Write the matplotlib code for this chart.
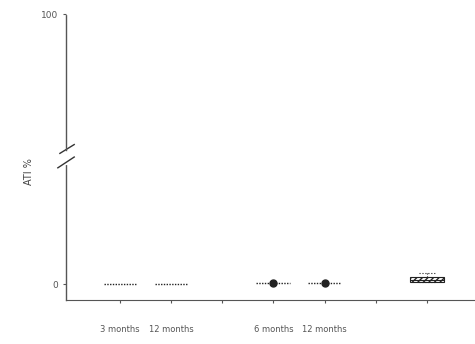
import matplotlib
matplotlib.use("Agg")
import matplotlib.pyplot as plt
import numpy as np

# ---- data ----
categories = ['3 months', '12 months', '', '6 months', '12 months', '', '']
positions = [0, 1, 2, 3, 4, 5, 6]
line_pos = [0, 1]
line_vals = [0.0, 0.0]
point_pos = [3, 4]
point_vals = [0.3, 0.3]
point_err = [0.3, 0.3]
box_pos = 6
box_q1, box_med, box_q3, box_lo, box_hi = 0.8, 1.5, 2.6, 0.8, 4.2
y_label = 'ATI %'

col = '#222222'
fig = plt.figure(figsize=(4.75, 3.44), dpi=100)
ax_top = fig.add_axes([0.139, 0.564, 0.861, 0.395])
ax_bot = fig.add_axes([0.139, 0.128, 0.861, 0.392])

for ax in (ax_top, ax_bot):
    ax.set_xlim(-1.05, 6.94)
    for s in ('top', 'right'):
        ax.spines[s].set_visible(False)
    ax.spines['left'].set_color('#555555')
    ax.spines['left'].set_linestyle((0, (1, 1)))
    ax.spines['left'].set_linewidth(1.0)
    ax.tick_params(axis='y', length=2, width=0.8, labelsize=6.5, colors='#555555')

ax_top.set_ylim(45, 100)
ax_top.set_yticks([100])
ax_top.spines['bottom'].set_visible(False)
ax_top.set_xticks([])

ax_bot.set_ylim(-6, 45)
ax_bot.set_yticks([0])
ax_bot.spines['bottom'].set_color('#555555')
ax_bot.spines['bottom'].set_linestyle((0, (1, 1)))
ax_bot.set_xticks(positions)
ax_bot.set_xticklabels(categories)
ax_bot.tick_params(axis='x', length=2, width=0.8, pad=16, labelsize=6, colors='#555555')

# median-like lines
for p, v in zip(line_pos, line_vals):
    ax_bot.hlines(v, p - 0.31, p + 0.31, color=col, lw=1.0, linestyles=(0, (1, 1)))

# points with horizontal spread
for p, v in zip(point_pos, point_vals):
    ax_bot.hlines(v, p - 0.33, p + 0.33, color=col, lw=1.0, linestyles=(0, (1, 1)))
    ax_bot.plot([p], [v], 'o', color=col, ms=5)

# box
ax_bot.bxp([dict(med=box_med, q1=box_q1, q3=box_q3, whislo=box_lo, whishi=box_hi,
                 fliers=[])], positions=[box_pos], widths=0.65, patch_artist=True,
           showcaps=True, manage_ticks=False,
           boxprops=dict(facecolor='white', edgecolor=col, hatch='//////', lw=0.8),
           medianprops=dict(color=col, lw=0.8),
           whiskerprops=dict(color=col, lw=0.8, ls=':'),
           capprops=dict(color=col, lw=0.8, ls=':'))

# break marks
kw = dict(color='#333333', lw=1.0, clip_on=False)
ax_top.plot([-0.015, 0.02], [-0.025, 0.04], transform=ax_top.transAxes, **kw)
ax_bot.plot([-0.02, 0.02], [0.98, 1.06], transform=ax_bot.transAxes, **kw)

fig.text(0.06, 0.5, y_label, rotation=90, ha='center', va='center', fontsize=7, color='#444444')

fig.savefig('out.png', dpi=100)
